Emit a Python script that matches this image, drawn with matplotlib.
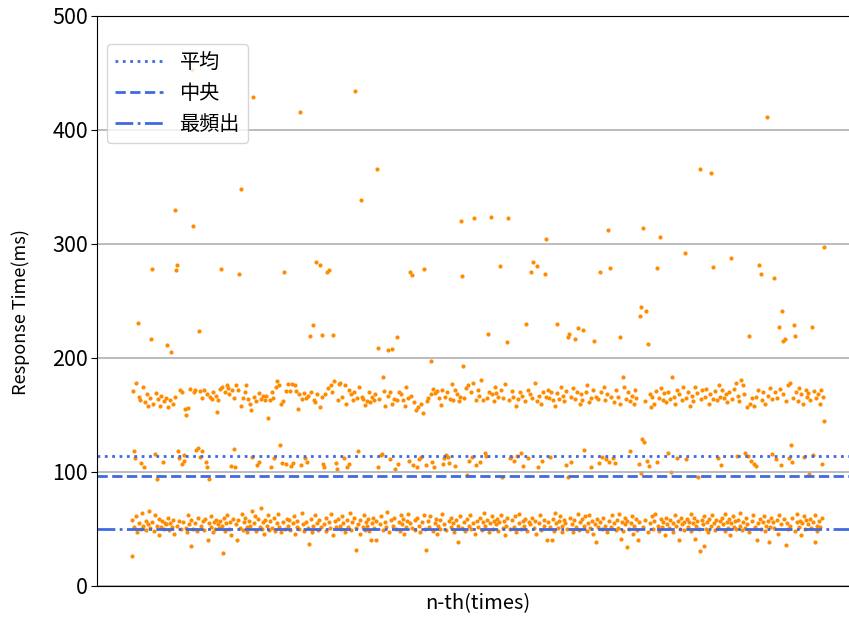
import matplotlib
matplotlib.use('Agg')
import matplotlib.pyplot as plt
import numpy as np

plt.rcParams['font.family'] = ['Noto Sans CJK JP', 'DejaVu Sans']

# response time of each request (ms) in order
response_ms = [
    26, 58, 171, 118, 52, 112, 178, 61, 47, 231, 166, 55, 163, 50, 108, 64, 175, 53, 104, 161, 57, 49, 168, 54, 158,
    66, 165, 51, 217, 278, 56, 160, 48, 62, 116, 169, 53, 94, 164, 45, 59, 158, 52, 167, 57, 109, 50, 162, 55, 165,
    54, 211, 157, 60, 49, 163, 55, 205, 52, 160, 58, 46, 166, 330, 277, 53, 282, 118, 57, 112, 172, 50, 170, 107, 56,
    115, 110, 155, 51, 150, 47, 62, 156, 54, 173, 35, 58, 453, 50, 316, 170, 55, 172, 119, 48, 121, 60, 224, 113, 171,
    53, 165, 118, 57, 172, 49, 59, 109, 104, 168, 40, 55, 94, 166, 52, 61, 164, 47, 170, 56, 50, 167, 58, 153, 54,
    163, 51, 57, 173, 278, 53, 175, 29, 60, 170, 48, 55, 176, 62, 174, 50, 168, 56, 105, 45, 172, 59, 165, 120, 104,
    54, 176, 40, 172, 58, 274, 51, 158, 348, 63, 165, 49, 56, 170, 60, 176, 52, 47, 164, 57, 160, 53, 154, 66, 113,
    429, 55, 166, 61, 48, 162, 106, 59, 109, 169, 52, 68, 164, 50, 167, 56, 46, 163, 58, 167, 53, 62, 147, 49, 163,
    57, 104, 170, 51, 165, 60, 112, 48, 175, 55, 180, 63, 52, 176, 124, 47, 160, 108, 56, 162, 275, 50, 171, 107, 59,
    177, 53, 58, 171, 49, 105, 177, 55, 108, 61, 176, 46, 171, 52, 57, 155, 50, 168, 416, 106, 64, 164, 54, 169, 48,
    112, 56, 165, 109, 51, 167, 37, 219, 59, 170, 47, 53, 229, 163, 62, 161, 284, 55, 168, 49, 58, 157, 282, 52, 166,
    220, 107, 54, 104, 168, 60, 48, 275, 174, 56, 277, 51, 176, 63, 170, 220, 45, 180, 57, 108, 52, 103, 163, 59, 177,
    53, 178, 50, 61, 166, 55, 112, 176, 47, 160, 58, 104, 52, 107, 172, 64, 168, 49, 56, 163, 60, 170, 434, 51, 32,
    165, 118, 54, 175, 58, 46, 339, 166, 52, 164, 62, 49, 159, 56, 162, 53, 59, 170, 48, 161, 40, 166, 55, 60, 163,
    51, 168, 57, 40, 366, 209, 104, 164, 54, 115, 61, 116, 183, 49, 171, 56, 158, 52, 65, 167, 207, 47, 170, 111, 58,
    208, 160, 53, 60, 164, 103, 50, 163, 218, 107, 56, 170, 48, 62, 168, 54, 163, 59, 46, 158, 52, 175, 57, 63, 165,
    110, 275, 55, 167, 273, 51, 106, 161, 58, 49, 154, 104, 60, 157, 53, 111, 47, 113, 160, 56, 152, 62, 278, 50, 106,
    32, 162, 57, 165, 52, 61, 168, 197, 109, 48, 173, 104, 55, 169, 59, 46, 171, 53, 165, 58, 50, 159, 63, 172, 107,
    54, 112, 166, 115, 49, 170, 113, 57, 108, 164, 52, 60, 177, 55, 163, 47, 172, 105, 58, 168, 39, 53, 162, 61, 166,
    320, 272, 51, 193, 165, 56, 48, 174, 59, 97, 176, 53, 110, 62, 170, 50, 113, 178, 55, 323, 46, 106, 163, 57, 172,
    52, 167, 109, 60, 181, 49, 163, 56, 64, 117, 53, 114, 165, 58, 221, 47, 170, 55, 324, 168, 61, 50, 162, 57, 175,
    54, 169, 59, 48, 166, 56, 281, 62, 172, 96, 51, 165, 57, 45, 177, 53, 214, 60, 323, 163, 112, 50, 113, 171, 58,
    166, 52, 110, 61, 158, 47, 114, 164, 55, 63, 170, 117, 50, 167, 57, 105, 53, 162, 59, 230, 48, 112, 172, 56, 168,
    54, 275, 60, 165, 284, 51, 178, 57, 46, 162, 281, 104, 55, 167, 62, 160, 49, 110, 170, 58, 53, 274, 166, 304, 40,
    172, 56, 165, 113, 52, 170, 40, 59, 163, 48, 64, 158, 55, 230, 169, 51, 57, 164, 61, 175, 53, 47, 167, 58, 162,
    55, 171, 106, 50, 218, 96, 221, 60, 166, 109, 54, 174, 47, 58, 217, 164, 52, 170, 63, 226, 49, 160, 56, 168, 59,
    163, 225, 53, 119, 61, 170, 48, 176, 55, 62, 161, 51, 104, 165, 57, 46, 172, 215, 54, 166, 39, 59, 164, 52, 108,
    275, 56, 170, 50, 113, 60, 175, 53, 163, 111, 47, 168, 312, 109, 57, 279, 52, 166, 62, 112, 55, 161, 108, 49, 172,
    58, 166, 51, 63, 218, 160, 41, 56, 183, 48, 175, 54, 60, 164, 34, 57, 170, 50, 118, 162, 55, 61, 167, 46, 160,
    53, 172, 59, 165, 49, 40, 107, 56, 237, 99, 245, 129, 314, 52, 126, 162, 58, 241, 110, 47, 212, 105, 168, 55, 157,
    61, 166, 50, 160, 57, 63, 171, 109, 279, 53, 165, 48, 306, 174, 59, 52, 163, 56, 169, 45, 60, 161, 54, 117, 170,
    51, 164, 58, 100, 183, 55, 47, 166, 62, 160, 53, 172, 112, 57, 40, 168, 50, 60, 163, 54, 175, 49, 56, 292, 111,
    165, 59, 52, 170, 56, 158, 63, 48, 167, 55, 162, 60, 41, 175, 53, 57, 169, 96, 50, 31, 366, 164, 58, 172, 54,
    35, 61, 166, 50, 173, 56, 47, 160, 59, 168, 53, 362, 62, 280, 164, 55, 49, 171, 58, 163, 112, 52, 176, 57, 166,
    106, 60, 172, 54, 165, 48, 63, 168, 56, 161, 51, 59, 170, 45, 288, 55, 164, 61, 173, 52, 57, 178, 50, 114, 167,
    58, 162, 53, 64, 181, 49, 176, 56, 168, 117, 51, 60, 157, 54, 114, 219, 47, 160, 110, 57, 165, 62, 158, 107, 52,
    105, 166, 40, 55, 172, 282, 59, 50, 274, 163, 56, 170, 61, 48, 160, 53, 411, 167, 57, 39, 174, 52, 60, 116, 164,
    56, 270, 51, 170, 111, 58, 165, 46, 62, 227, 173, 106, 54, 241, 168, 215, 59, 217, 162, 36, 55, 176, 50, 112, 178,
    53, 124, 109, 60, 165, 229, 48, 219, 170, 56, 63, 162, 52, 174, 57, 45, 168, 55, 160, 61, 113, 50, 172, 58, 166,
    54, 169, 98, 59, 163, 51, 227, 115, 56, 171, 39, 62, 165, 53, 48, 168, 57, 160, 52, 172, 60, 107, 166, 145, 297,
]

# summary lines as shown on the chart
stat_values = [114.3, 96.5, 50]
stat_labels = ['平均', '中央', '最頻出']
stat_styles = [':', '--', '-.']

y_ticks = [0, 100, 200, 300, 400, 500]

x = np.arange(len(response_ms))

fig = plt.figure(figsize=(8.49, 6.21), dpi=100)
# axes run a little past the right edge, like the cropped original
ax = fig.add_axes([97 / 849, 35 / 621, 762 / 849, 570 / 621])

ax.scatter(x, response_ms, s=9, color='darkorange', linewidths=0)

for val, lab, ls in zip(stat_values, stat_labels, stat_styles):
    ax.axhline(val, color='royalblue', lw=2, ls=ls, label=lab)

ax.set_ylim(0, 500)
ax.set_yticks(y_ticks)
ax.set_xticks([])
ax.grid(axis='y', color='#b0b0b0', lw=1.2)
ax.tick_params(axis='y', labelsize=15.5, length=4, pad=2.5)

ax.set_xlabel('n-th(times)', fontsize=14.5, labelpad=5)
ax.set_ylabel('Response Time(ms)', fontsize=13)
ax.yaxis.set_label_coords(-0.088, 0.48)

ax.legend(loc='upper left', bbox_to_anchor=(10 / 762, (586 - 44) / 570),
          borderaxespad=0, fontsize=14.5, handlelength=2.4)

fig.savefig('out.png', dpi=100)
